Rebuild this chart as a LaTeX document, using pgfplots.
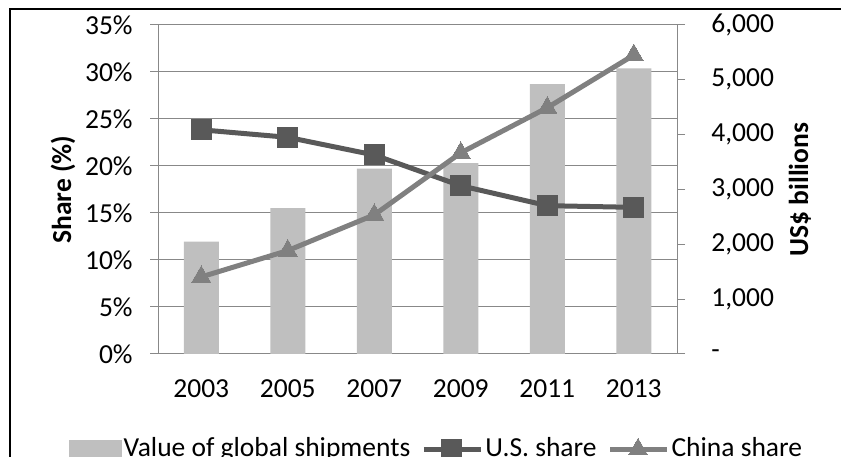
\documentclass[border=0pt]{standalone}
\usepackage{pgfplots}
\pgfplotsset{compat=1.18}
\usepackage{fontspec}
\setmainfont{Carlito}

\definecolor{barc}{HTML}{BFBFBF}
\definecolor{usc}{HTML}{595959}
\definecolor{cnc}{HTML}{808080}
\definecolor{gridc}{HTML}{888888}

\newcommand{\chartfont}{\fontsize{27.5bp}{33bp}\selectfont}

% legend picture for the share lines: a line with a marker in its middle
\pgfplotsset{
  shareleg/.style={
    legend image code/.code={%
      \draw[mark repeat=2,mark phase=2,##1]
        plot coordinates {(0bp,0bp) (28bp,0bp) (57bp,0bp)};}},
  barleg/.style={
    legend image code/.code={\fill[barc] (0bp,-9bp) rectangle (52bp,9bp);}},
}

% Value of global shipments (US$ billions)
\pgfplotstableread{
x val
0 2050
1 2660
2 3380
3 3480
4 4920
5 5210
}\shipments
% U.S. share (%)
\pgfplotstableread{
x val
0 23.85
1 23.05
2 21.17
3 17.9
4 15.78
5 15.6
}\usshare
% China share (%)
\pgfplotstableread{
x val
0 8.2
1 11.0
2 14.8
3 21.4
4 26.2
5 31.8
}\cnshare

\begin{document}
\chartfont
\begin{tikzpicture}[x=1bp,y=1bp]
\useasboundingbox (0,0) rectangle (841,457);
% outer chart frame
\draw[black, line width=1.4bp] (10,-40) rectangle (900,448);

\pgfplotsset{
  every axis/.append style={
    scale only axis, width=519bp, height=329bp,
    at={(158bp,103bp)}, anchor=south west,
    xmin=-0.5, xmax=5.5, clip=false,
    /pgf/number format/assume math mode=true,
    tick style={gridc, line width=1bp},
    axis line style={gridc, line width=1bp},
    tick align=outside,
    major tick length=8bp, minor tick length=8bp,
    tick label style={font=\chartfont},
    label style={font=\chartfont\bfseries},
  },
}

% left axis: share, gridlines and categories
\begin{axis}[
  ymin=0, ymax=35,
  axis x line*=bottom, axis y line*=left,
  ytick={0,5,...,35},
  yticklabels={0\%,5\%,10\%,15\%,20\%,25\%,30\%,35\%},
  ymajorgrids, grid style={gridc, line width=1bp},
  xtick={0,...,5},
  xticklabels={2003,2005,2007,2009,2011,2013},
  x tick style={draw=none},
  minor xtick={-0.5,0.5,...,5.5},
  minor x tick style={gridc, line width=1bp},
  xticklabel style={yshift=-8bp},
  yticklabel style={xshift=-8bp},
  ylabel={Share (\%)},
  ylabel style={at={(axis description cs:-0.183,0.5)}, anchor=center},
]
\addplot[draw=none] coordinates {(0,0)};
\end{axis}

% right axis: value of shipments as bars
\begin{axis}[
  ymin=0, ymax=6000,
  axis x line=none, axis y line*=right,
  ytick={0,1000,...,6000},
  yticklabels={-,{1,000},{2,000},{3,000},{4,000},{5,000},{6,000}},
  yticklabel style={xshift=17bp},
  ylabel={US\$ billions},
  ylabel style={at={(axis description cs:1.237,0.5)}, anchor=center},
]
\addplot[ybar, bar width=35bp, fill=barc, draw=none] table[x=x,y=val] {\shipments};
\end{axis}

% shares as lines with markers
\begin{axis}[
  ymin=0, ymax=35, hide axis,
  legend columns=3,
  legend style={draw=none, fill=none, at={(0.537,-0.29)}, anchor=center,
    font=\chartfont,
    /tikz/every even column/.append style={column sep=9bp},
    inner sep=0pt},
  legend cell align=left,
]
\addlegendimage{barleg}
\addlegendentry{Value of global shipments}
\addplot[usc, line width=5bp, mark=square*, mark size=10bp,
  mark options={line width=0pt}, shareleg]
  table[x=x,y=val] {\usshare};
\addlegendentry{U.S. share}
\addplot[cnc, line width=5bp, mark=triangle*, mark size=11bp,
  mark options={line width=0pt}, shareleg]
  table[x=x,y=val] {\cnshare};
\addlegendentry{China share}
\end{axis}
\end{tikzpicture}
\end{document}
